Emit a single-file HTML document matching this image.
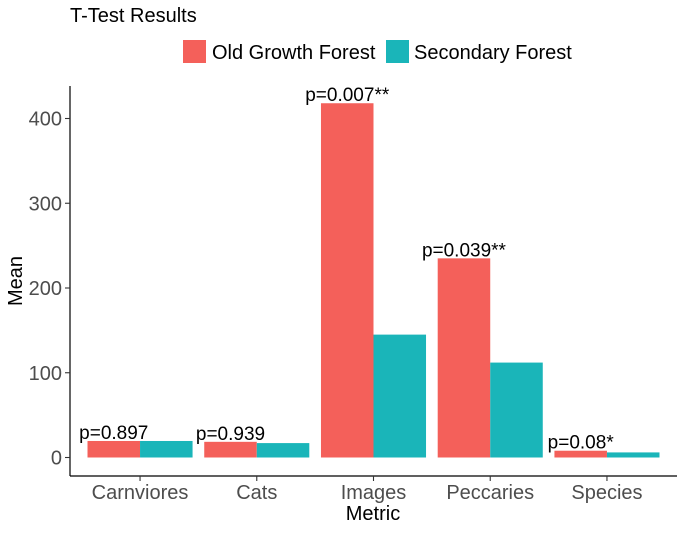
<!DOCTYPE html>
<html><head><meta charset="utf-8"><style>
body{margin:0;background:#fff;}
svg{font-family:"Liberation Sans",Arial,sans-serif;}
</style></head><body>
<svg id="c" width="684" height="530">
<text x="70" y="22" font-size="20" fill="#000">T-Test Results</text>
<g>
<rect x="183" y="40" width="23" height="23" fill="#F4605A"/>
<text x="212" y="59" font-size="20">Old Growth Forest</text>
<rect x="386" y="40" width="23" height="23" fill="#1AB5B9"/>
<text x="414" y="59" font-size="20">Secondary Forest</text>
</g>
<g id="bars"></g>
<line x1="70" y1="86" x2="70" y2="476" stroke="#000" stroke-width="1.2"/>
<line x1="70" y1="476" x2="677" y2="476" stroke="#000" stroke-width="1.2"/>
<g id="axes"></g>
<text x="373" y="520" font-size="20" text-anchor="middle">Metric</text>
<text transform="translate(22,281) rotate(-90)" font-size="20" text-anchor="middle">Mean</text>
</svg>
<script>
const categories=["Carnviores","Cats","Images","Peccaries","Species"];
const oldGrowth=[19.5,18.5,418,235,8];
const secondary=[19.5,17,145,112,6];
const pLabels=["p=0.897","p=0.939","p=0.007**","p=0.039**","p=0.08*"];
const yTicks=[0,100,200,300,400];
const NS="http://www.w3.org/2000/svg";
const x0=70,x1=677,n=categories.length,unit=(x1-x0)/(n+0.2);
function xc(i){return x0+(i+0.6)*unit;}
function y(v){return 457.5-v*0.8475;}
const bars=document.getElementById('bars'),axes=document.getElementById('axes');
function mk(t,a,p){const e=document.createElementNS(NS,t);for(const k in a)e.setAttribute(k,a[k]);p.appendChild(e);return e;}
const bw=unit*0.45;
categories.forEach((c,i)=>{
  const cx=xc(i);
  const r1=mk('rect',{x:cx-bw,y:y(oldGrowth[i]),width:bw,height:y(0)-y(oldGrowth[i]),fill:'#F4605A'},bars);
  
  
  const r2=mk('rect',{x:cx,y:y(secondary[i]),width:bw,height:y(0)-y(secondary[i]),fill:'#1AB5B9'},bars);
  
  
  const t=mk('text',{x:cx-bw/2,y:y(oldGrowth[i])-2,'font-size':19,'text-anchor':'middle',fill:'#000'},bars);
  t.textContent=pLabels[i];
  
  
  mk('line',{x1:cx,y1:476,x2:cx,y2:481,stroke:'#333','stroke-width':1.1},axes);
  const l=mk('text',{x:cx,y:499,'font-size':20,'text-anchor':'middle',fill:'#4d4d4d'},axes);
  l.textContent=c;
  
  
});
yTicks.forEach(v=>{
  mk('line',{x1:65,y1:y(v),x2:70,y2:y(v),stroke:'#333','stroke-width':1.1},axes);
  const l=mk('text',{x:62,y:y(v)+7,'font-size':20,'text-anchor':'end',fill:'#4d4d4d'},axes);
  l.textContent=v;
  
  
});
</script>
</body></html>
